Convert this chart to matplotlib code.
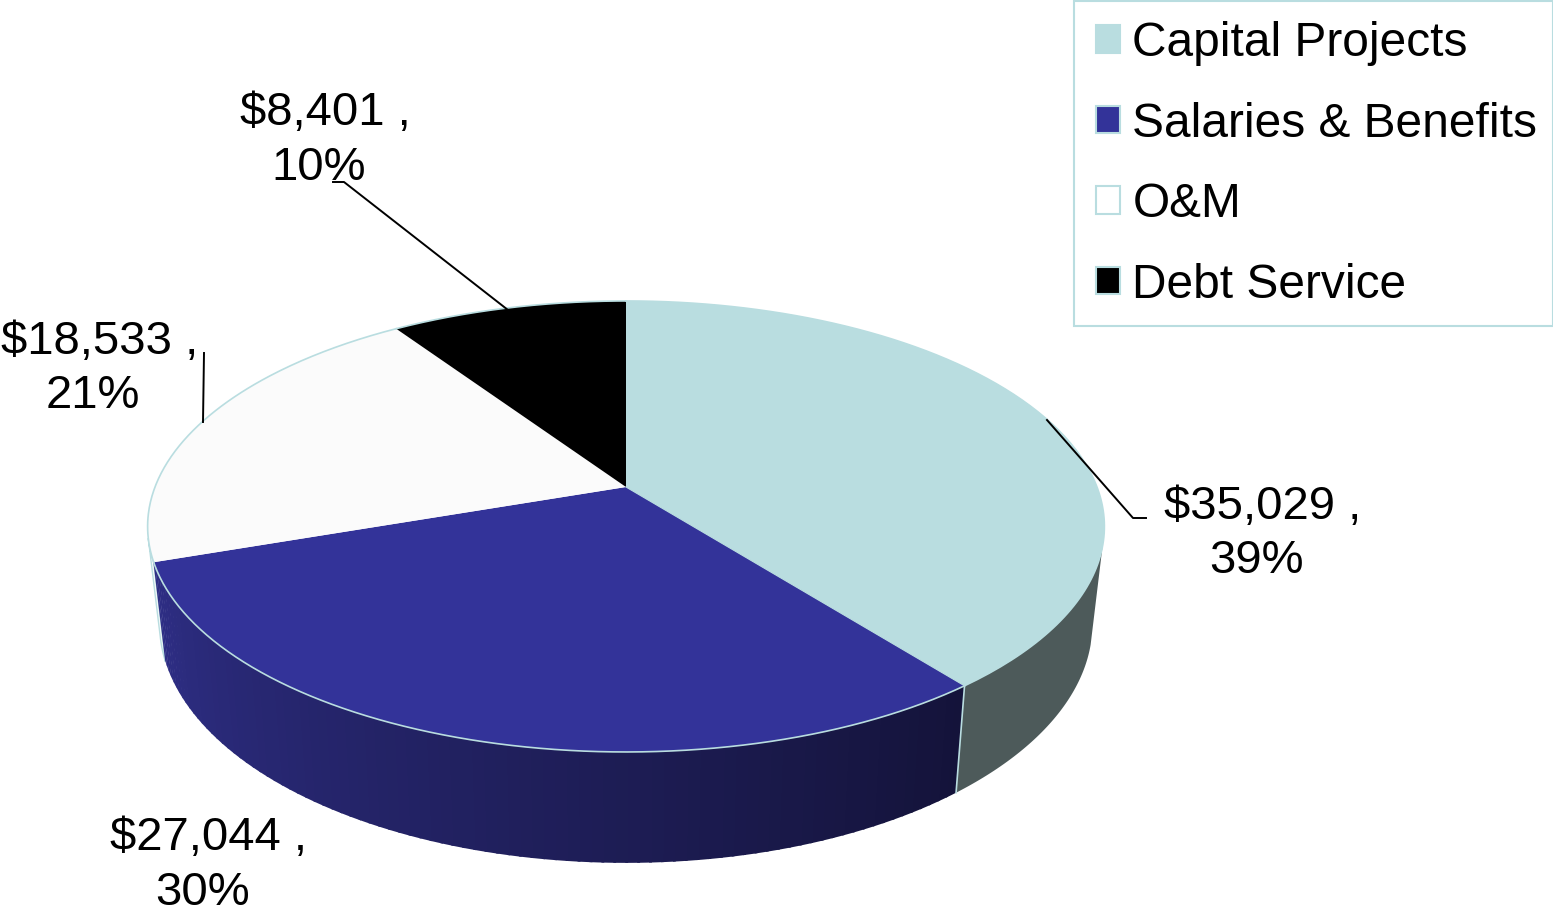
#!/usr/bin/env python

import numpy as np
import matplotlib
matplotlib.use("Agg")
import matplotlib.pyplot as plt
from matplotlib.patches import Patch, Polygon, Rectangle

categories = ["Capital Projects", "Salaries & Benefits", "O&M", "Debt Service"]
amounts = [35029, 27044, 18533, 8401]
percents = [39, 30, 21, 10]
colors = ["#b9dde0", "#333399", "#fbfbfb", "#000000"]
edge = "#b9dde0"

plt.rcParams["font.family"] = ["Liberation Sans", "DejaVu Sans"]
FS = 34

fig = plt.figure(figsize=(15.53, 9.10), dpi=100)
ax = fig.add_axes([0, 0, 1, 1])
ax.set_xlim(0, 1553)
ax.set_ylim(910, 0)
ax.axis("off")

# perspective disc, angle clockwise from the top
cx, cy = 626, 487
R, a, b = 471.0, 218.6, 0.175


def top(t):
    t = np.radians(t)
    d = 1 + b * np.cos(t)
    return cx + R * np.sin(t) / d, cy - a * np.cos(t) / d


def low(t):
    x, y = top(t)
    return cx + 0.975 * (x - cx), 582 + 1.06 * (y - cy)


def wall(t0, t1, c, ec="none"):
    t = np.linspace(t0, t1, 60)
    ux, uy = top(t)
    lx, ly = low(t)
    pts = np.r_[np.c_[ux, uy], np.c_[lx, ly][::-1]]
    ax.add_patch(Polygon(pts, closed=True, fc=c, ec=ec, lw=1))


bounds = np.r_[0, np.cumsum(amounts)] / np.sum(amounts) * 360

# side walls
wall(105, bounds[1], "#4d5a5a")
wall(bounds[2], 257, "#fbfbfb", edge)
steps = np.linspace(bounds[1], bounds[2], 90)
c_left = np.array([0x2e, 0x2e, 0x85]) / 255
c_right = np.array([0x14, 0x13, 0x3a]) / 255
for i in range(len(steps) - 1):
    f = i / (len(steps) - 2)
    c = c_right + (c_left - c_right) * f
    wall(steps[i], steps[i + 1] + 0.3, tuple(c))
lx, ly = low(bounds[1])
ux, uy = top(bounds[1])
ax.plot([ux, lx], [uy, ly], color=edge, lw=1.2)

# top face
for i in range(len(amounts)):
    t = np.linspace(bounds[i], bounds[i + 1], 150)
    x, y = top(t)
    pts = np.r_[[[cx, cy]], np.c_[x, y]]
    ax.add_patch(Polygon(pts, closed=True, fc=colors[i], ec="none", zorder=3))
    ax.plot(x, y, color=edge, lw=1.2, zorder=4)
x, y = top(bounds[1])
ax.plot([cx, x], [cy, y], color=edge, lw=0.8, zorder=4)

# data labels
line1_x = [1263, 209, 100, 325]
line2_x = [1256, 203, 93, 319]
line1_y = [519, 850, 354, 125]
line2_y = [573, 905, 408, 180]
for i in range(len(amounts)):
    ax.text(line1_x[i], line1_y[i], f"${amounts[i]:,} ,", fontsize=FS, ha="center", va="baseline", zorder=6)
    ax.text(line2_x[i], line2_y[i], f"{percents[i]}%", fontsize=FS, ha="center", va="baseline", zorder=6)

# leader lines
ax.plot([1047, 1133, 1146], [420, 518, 518], color="black", lw=1.4, zorder=5)
ax.plot([204, 203], [353, 422], color="black", lw=1.4, zorder=5)
ax.plot([508, 344, 333], [310, 182, 182], color="black", lw=1.4, zorder=5)

# legend
ax.add_patch(Rectangle((1073.5, 0.5), 479, 325, fc="white", ec=edge, lw=1.5, zorder=5))
handles = [Patch(fc=c, ec=edge, lw=1.5) for c in ["#b9dde0", "#333399", "#ffffff", "#000000"]]
leg = ax.legend(handles, categories, loc="upper left", bbox_to_anchor=(1096 / 1553, 1 - 21 / 910),
                frameon=False, fontsize=34.5, borderpad=0, borderaxespad=0,
                handlelength=0.5, handleheight=0.5, handletextpad=0.26, labelspacing=0.742)
leg.set_zorder(6)

fig.savefig("out.png", dpi=100)
